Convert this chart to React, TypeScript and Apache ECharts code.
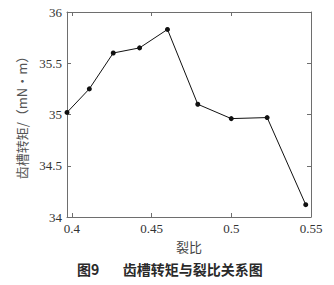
import React, { useEffect, useRef } from "react";
import * as echarts from "echarts";

const splitRatio = [0.397, 0.411, 0.426, 0.4425, 0.46, 0.479, 0.5, 0.5225, 0.5467];
const cogTorque = [35.02, 35.25, 35.6, 35.65, 35.83, 35.1, 34.96, 34.97, 34.12];
const xTicks = [0.4, 0.45, 0.5, 0.55];
const yTicks = [34, 34.5, 35, 35.5, 36];
const xName = "裂比";
const yName = "齿槽转矩/（mN·m）";
const caption = "图9　   齿槽转矩与裂比关系图";

export default function App() {
  const ref = useRef<HTMLDivElement>(null);
  useEffect(() => {
    if (!ref.current) return;
    const chart = echarts.init(ref.current, null, { renderer: "svg" });
    const axisLineStyle = { color: "#6e6e6e", width: 1 };
    const labelStyle = {
      fontFamily: "Liberation Serif",
      fontSize: 13,
      color: "#333",
    };
    chart.setOption({
      animation: false,
      grid: { left: 67, right: 23, top: 12, bottom: 68, containLabel: false },
      xAxis: [
        {
          type: "value",
          min: 0.397,
          max: 0.55,
          position: "bottom",
          name: xName,
          nameLocation: "middle",
          nameGap: 21,
          nameTextStyle: { fontFamily: "Noto Sans CJK SC", fontSize: 13, color: "#444" },
          axisLine: { show: true, lineStyle: axisLineStyle },
          axisTick: { show: true, inside: true, length: 4, customValues: xTicks, lineStyle: axisLineStyle },
          axisLabel: {
            ...labelStyle,
            margin: 5,
            customValues: xTicks,
            formatter: (v: number) => String(Number(v.toFixed(2))),
          },
          splitLine: { show: false },
        },
        {
          type: "value",
          min: 0.397,
          max: 0.55,
          position: "top",
          axisLine: { show: true, lineStyle: axisLineStyle },
          axisTick: { show: true, inside: true, length: 4, customValues: xTicks, lineStyle: axisLineStyle },
          axisLabel: { show: false },
          splitLine: { show: false },
        },
      ],
      yAxis: [
        {
          type: "value",
          min: 34,
          max: 36,
          interval: 0.5,
          position: "left",
          name: yName,
          nameLocation: "middle",
          nameGap: 36,
          nameRotate: 90,
          nameTextStyle: { fontFamily: "Noto Sans CJK SC", fontSize: 13, color: "#555" },
          axisLine: { show: true, lineStyle: axisLineStyle },
          axisTick: { show: true, inside: true, length: 4, lineStyle: axisLineStyle },
          axisLabel: { ...labelStyle, margin: 5, customValues: yTicks },
          splitLine: { show: false },
        },
        {
          type: "value",
          min: 34,
          max: 36,
          interval: 0.5,
          position: "right",
          axisLine: { show: true, lineStyle: axisLineStyle },
          axisTick: { show: true, inside: true, length: 4, lineStyle: axisLineStyle },
          axisLabel: { show: false },
          splitLine: { show: false },
        },
      ],
      graphic: [
        {
          type: "text",
          left: 77,
          top: 262,
          style: {
            text: caption,
            fontFamily: "Noto Sans CJK SC",
            fontWeight: "bold",
            fontSize: 14,
            fill: "#2a2a2a",
          },
        },
      ],
      series: [
        {
          type: "line",
          data: splitRatio.map((x, i) => [x, cogTorque[i]]),
          xAxisIndex: 0,
          yAxisIndex: 0,
          symbol: "circle",
          symbolSize: 5,
          lineStyle: { color: "#111", width: 1 },
          itemStyle: { color: "#111" },
        },
      ],
    });
    return () => chart.dispose();
  }, []);
  return <div ref={ref} style={{ width: 334, height: 285, margin: -8 }} />;
}
